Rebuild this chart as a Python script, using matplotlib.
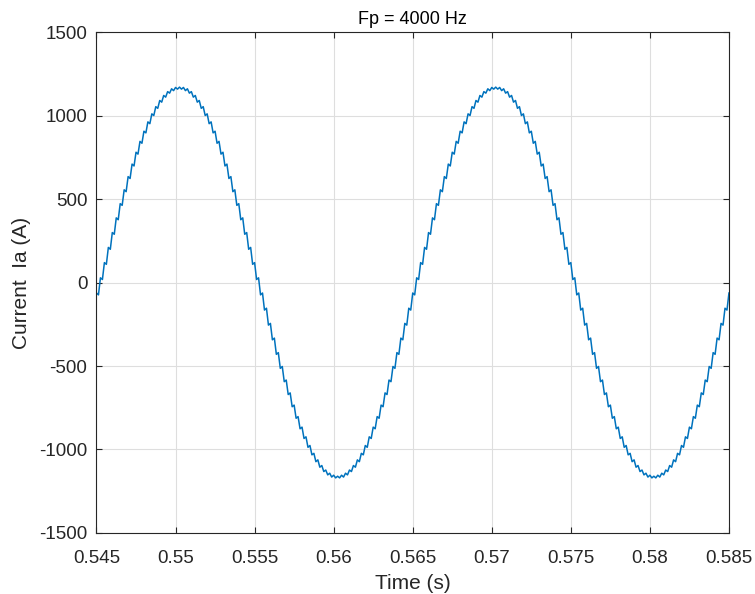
import matplotlib
matplotlib.use('Agg')
import matplotlib.pyplot as plt
import numpy as np

# Phase current, one value every 0.125 ms
t_start = 0.545
t_end = 0.585
ia = [
    -63, -74,
    # first positive half cycle
    28, 18, 119, 109, 210, 199, 299, 289, 387, 376,
    472, 462, 555, 544, 634, 623, 709, 698, 780, 769,
    845, 834, 906, 896, 962, 951, 1010, 1000, 1053, 1043,
    1090, 1080, 1120, 1110, 1143, 1134, 1160, 1149, 1168, 1158,
    1170,
    1158, 1168, 1149, 1160, 1134, 1143, 1110, 1120, 1080, 1090,
    1043, 1053, 1000, 1010, 951, 962, 896, 906, 834, 845,
    769, 780, 698, 709, 623, 634, 544, 555, 462, 472,
    376, 387, 289, 299, 199, 210, 109, 119, 18, 28,
    # first negative half cycle
    -74, -63, -165, -154, -255, -245, -343, -333, -430, -420,
    -514, -503, -594, -584, -671, -661, -744, -734, -813, -803,
    -876, -866, -934, -924, -987, -976, -1032, -1023, -1073, -1062,
    -1106, -1096, -1132, -1123, -1152, -1142, -1165, -1154, -1170, -1160,
    -1170, -1154, -1165, -1142, -1152, -1123, -1132, -1096, -1106, -1062,
    -1073, -1023, -1032, -976, -987, -924, -934, -866, -876, -803,
    -813, -734, -744, -661, -671, -584, -594, -503, -514, -420,
    -430, -333, -343, -245, -255, -154, -165, -63, -74, 28,
    # second positive half cycle
    18, 119, 109, 210, 199, 299, 289, 387, 376,
    472, 462, 555, 544, 634, 623, 709, 698, 780, 769,
    845, 834, 906, 896, 962, 951, 1010, 1000, 1053, 1043,
    1090, 1080, 1120, 1110, 1143, 1134, 1160, 1149, 1168, 1158,
    1170,
    1158, 1168, 1149, 1160, 1134, 1143, 1110, 1120, 1080, 1090,
    1043, 1053, 1000, 1010, 951, 962, 896, 906, 834, 845,
    769, 780, 698, 709, 623, 634, 544, 555, 462, 472,
    376, 387, 289, 299, 199, 210, 109, 119, 18, 28,
    # second negative half cycle
    -74, -63, -165, -154, -255, -245, -343, -333, -430, -420,
    -514, -503, -594, -584, -671, -661, -744, -734, -813, -803,
    -876, -866, -934, -924, -987, -976, -1032, -1023, -1073, -1062,
    -1106, -1096, -1132, -1123, -1152, -1142, -1165, -1154, -1170, -1160,
    -1170, -1154, -1165, -1142, -1152, -1123, -1132, -1096, -1106, -1062,
    -1073, -1023, -1032, -976, -987, -924, -934, -866, -876, -803,
    -813, -734, -744, -661, -671, -584, -594, -503, -514, -420,
    -430, -333, -343, -245, -255, -154, -165, -63,
]

x_ticks = [0.545, 0.55, 0.555, 0.56, 0.565, 0.57, 0.575, 0.58, 0.585]
x_labels = ['0.545', '0.55', '0.555', '0.56', '0.565', '0.57', '0.575', '0.58', '0.585']
y_ticks = [-1500, -1000, -500, 0, 500, 1000, 1500]

plt.rcParams['font.family'] = ['Liberation Sans', 'DejaVu Sans']
dark = '#262626'

fig = plt.figure(figsize=(7.55, 5.94), dpi=100)
ax = fig.add_axes([0.1278, 0.1027, 0.8377, 0.8434])

t = np.linspace(t_start, t_end, len(ia))
ax.plot(t, ia, color='#0072BD', linewidth=1.1)

ax.set_xlim(t_start, t_end)
ax.set_ylim(-1500, 1500)
ax.set_xticks(x_ticks)
ax.set_xticklabels(x_labels)
ax.set_yticks(y_ticks)
ax.set_yticklabels([str(v) for v in y_ticks])

ax.grid(True, color='#dedede', linewidth=0.8)
ax.set_axisbelow(True)
ax.tick_params(direction='in', length=4.5, width=0.8, top=True, right=True,
               colors=dark, labelsize=13.5)
ax.tick_params(axis='x', pad=12)
ax.tick_params(axis='y', pad=6.5)
for s in ax.spines.values():
    s.set_color(dark)
    s.set_linewidth(0.8)

ax.set_title('Fp = 4000 Hz', fontsize=13, color='black', pad=6)
ax.set_xlabel('Time (s)', fontsize=15, color=dark, labelpad=5)
ax.set_ylabel('Current  Ia (A)', fontsize=15, color=dark, labelpad=6)

fig.savefig('out.png', dpi=100)
